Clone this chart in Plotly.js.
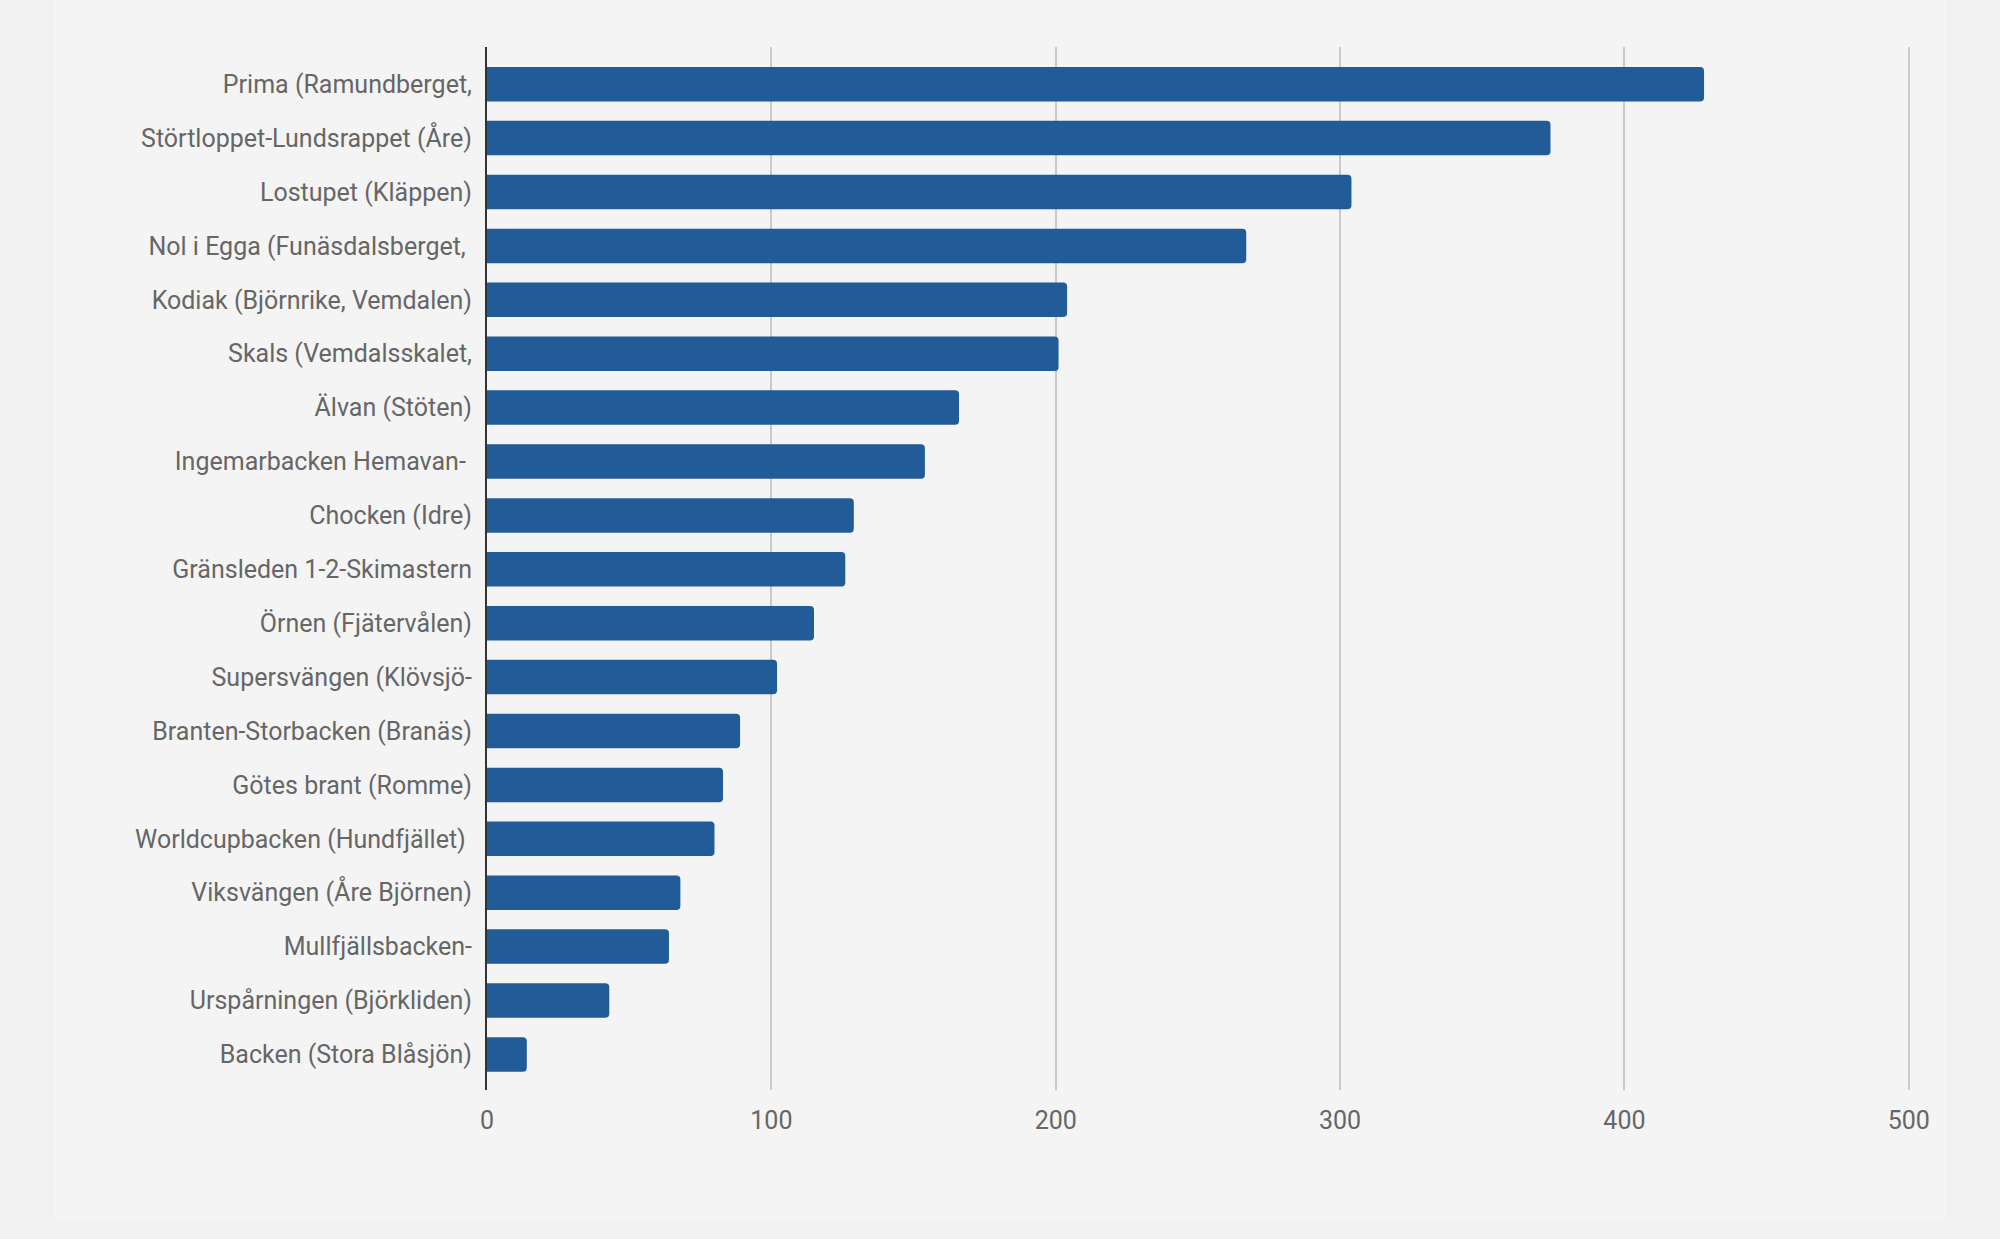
<!DOCTYPE html>
<html>
<head>
<meta charset="utf-8">
<script src="https://cdn.plot.ly/plotly-3.0.1.min.js"></script>
<style>
html,body{margin:0;padding:0;background:#f1f1f1;}
#chart{width:2000px;height:1239px;}
</style>
</head>
<body>
<div id="chart"></div>
<script>
var categories = [
  "Prima (Ramundberget,",
  "Störtloppet-Lundsrappet (Åre)",
  "Lostupet (Kläppen)",
  "Nol i Egga (Funäsdalsberget,\u00a0",
  "Kodiak (Björnrike, Vemdalen)",
  "Skals (Vemdalsskalet,",
  "Älvan (Stöten)",
  "Ingemarbacken Hemavan-\u00a0",
  "Chocken (Idre)",
  "Gränsleden 1-2-Skimastern",
  "Örnen (Fjätervålen)",
  "Supersvängen (Klövsjö-",
  "Branten-Storbacken (Branäs)",
  "Götes brant (Romme)",
  "Worldcupbacken (Hundfjället)\u00a0",
  "Viksvängen (Åre Björnen)",
  "Mullfjällsbacken-",
  "Urspårningen (Björkliden)",
  "Backen (Stora Blåsjön)"
];
var values = [428, 374, 304, 267, 204, 201, 166, 154, 129, 126, 115, 102, 89, 83, 80, 68, 64, 43, 14];
var xTicks = [0, 100, 200, 300, 400, 500];

var trace = {
  type: 'bar',
  orientation: 'h',
  y: categories,
  x: values,
  marker: {color: '#215c98', cornerradius: 4},
  hoverinfo: 'x+y'
};

var layout = {
  width: 2000,
  height: 1239,
  margin: {l: 487, r: 77, t: 47, b: 149, pad: 0},
  paper_bgcolor: '#f1f1f1',
  plot_bgcolor: 'rgba(0,0,0,0)',
  showlegend: false,
  bargap: 0.36,
  font: {family: 'Roboto, sans-serif', size: 25, color: '#666666'},
  xaxis: {
    range: [0, 505],
    tickvals: xTicks,
    ticktext: xTicks.map(String),
    showgrid: true,
    gridcolor: '#c9c9c9',
    gridwidth: 2,
    zeroline: false,
    showline: false,
    ticks: '',
    ticklabelstandoff: 13,
    tickfont: {family: 'Roboto, sans-serif', size: 25, color: '#666666'},
    fixedrange: true
  },
  yaxis: {
    type: 'category',
    range: [18.66, -0.69],
    showgrid: false,
    zeroline: false,
    showline: true,
    linecolor: '#333333',
    linewidth: 2,
    ticks: '',
    ticklabelstandoff: 8,
    tickfont: {family: 'Roboto, sans-serif', size: 25, color: '#666666'},
    fixedrange: true
  },
  shapes: [{
    type: 'rect', xref: 'paper', yref: 'paper', layer: 'below',
    x0: -0.3015, x1: 1.016, y0: -0.125, y1: 1.05,
    fillcolor: '#f4f4f4', line: {width: 0}
  }]
};

Plotly.newPlot('chart', [trace], layout, {displayModeBar: false, staticPlot: true});
</script>
</body>
</html>
